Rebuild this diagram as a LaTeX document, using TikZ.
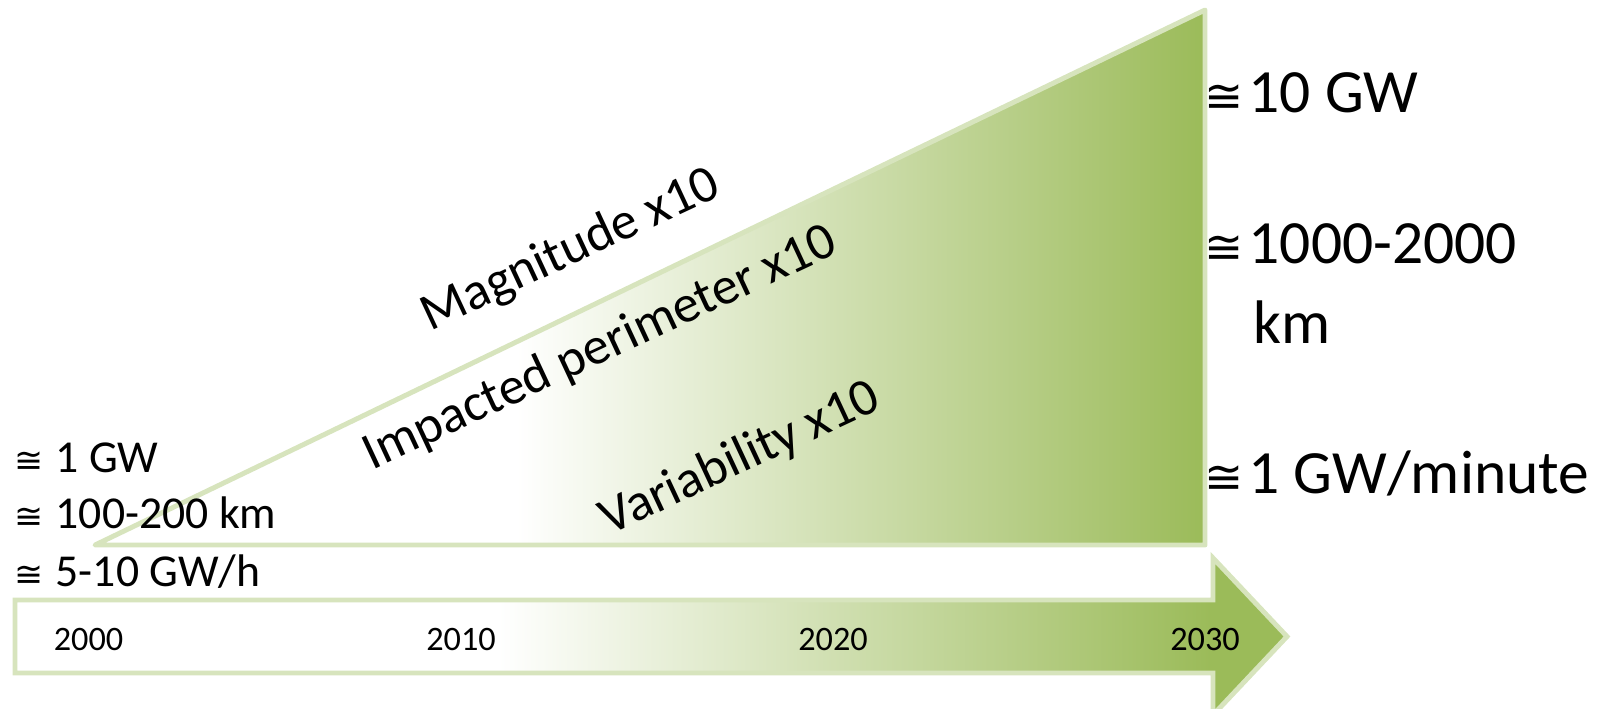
\documentclass[tikz,border=0pt]{standalone}
\usepackage{fontspec}
\setmainfont{Carlito}
\newfontfamily\cgfont{DejaVu Sans}[Scale=0.76]
\definecolor{olivelight}{HTML}{D7E4BD}
\definecolor{olivegreen}{HTML}{9BBB59}
\pgfdeclarehorizontalshading{trifade}{100bp}{color(0bp)=(white); color(44bp)=(white); color(75bp)=(olivegreen); color(100bp)=(olivegreen)}
\pgfdeclarehorizontalshading{arrowfade}{100bp}{color(0bp)=(white); color(44bp)=(white); color(72bp)=(olivegreen); color(100bp)=(olivegreen)}
\tikzstyle{band}=[draw=olivelight,line width=2.8pt]
\tikzstyle{trend}=[font=\fontsize{30}{36}\selectfont,rotate=25,anchor=base,inner sep=0pt]
\tikzstyle{startval}=[font=\fontsize{26}{31}\selectfont,anchor=base west,inner sep=0pt]
\tikzstyle{endval}=[font=\fontsize{35}{42}\selectfont,anchor=base west,inner sep=0pt]
\tikzstyle{year}=[font=\fontsize{19.5}{23}\selectfont,anchor=base,inner sep=0pt]
\newcommand{\cg}{{\cgfont ≅}}

\begin{document}
\begin{tikzpicture}[x=0.02cm,y=-0.02cm]
  \useasboundingbox (0,0) rectangle (1608,708);
  \def \abt {600}
  \def \abb {673}
  \def \aht {558}
  \def \ahb {715}
  % Growth triangle
  \shadedraw[band,shading=trifade,line join=round] (95,545) -- (1205,545) -- (1205,10) -- cycle;
  % Time arrow
  \shadedraw[band,shading=arrowfade,line join=miter] (15,\abt) -- (1213,\abt) -- (1213,\aht) -- (1287,636.5) -- (1213,\ahb) -- (1213,\abb) -- (15,\abb) -- cycle;
  \node[year] (y2000) at (88.5,650) {2000};
  \node[year] (y2010) at (461,650) {2010};
  \node[year] (y2020) at (833,650) {2020};
  \node[year] (y2030) at (1205,650) {2030};

  % Trends along the slope
  \node[trend] (mag) at (576.5,263) {Magnitude x10};
  \node[trend] (perim) at (606,361.5) {Impacted perimeter x10};
  \node[trend] (var) at (746.5,471.5) {Variability x10};

  % Values in 2000
  \node[startval] (s1gw) at (14,472) {\cg\hspace{7pt}1 GW};
  \node[startval] (skm) at (14,528) {\cg\hspace{7pt}100-200 km};
  \node[startval] (sgwh) at (14,586) {\cg\hspace{7pt}5-10 GW/h};

  % Values in 2030
  \node[endval] (e10gw) at (1204,112) {\cg\hspace{3pt}10 GW};
  \node[endval] (ekm) at (1204,263) {\cg\hspace{3pt}1000-2000};
  \node[endval] (ekmu) at (1253,343) {km};
  \node[endval] (egwm) at (1204,493) {\cg\hspace{3pt}1 GW/minute};
\end{tikzpicture}
\end{document}
